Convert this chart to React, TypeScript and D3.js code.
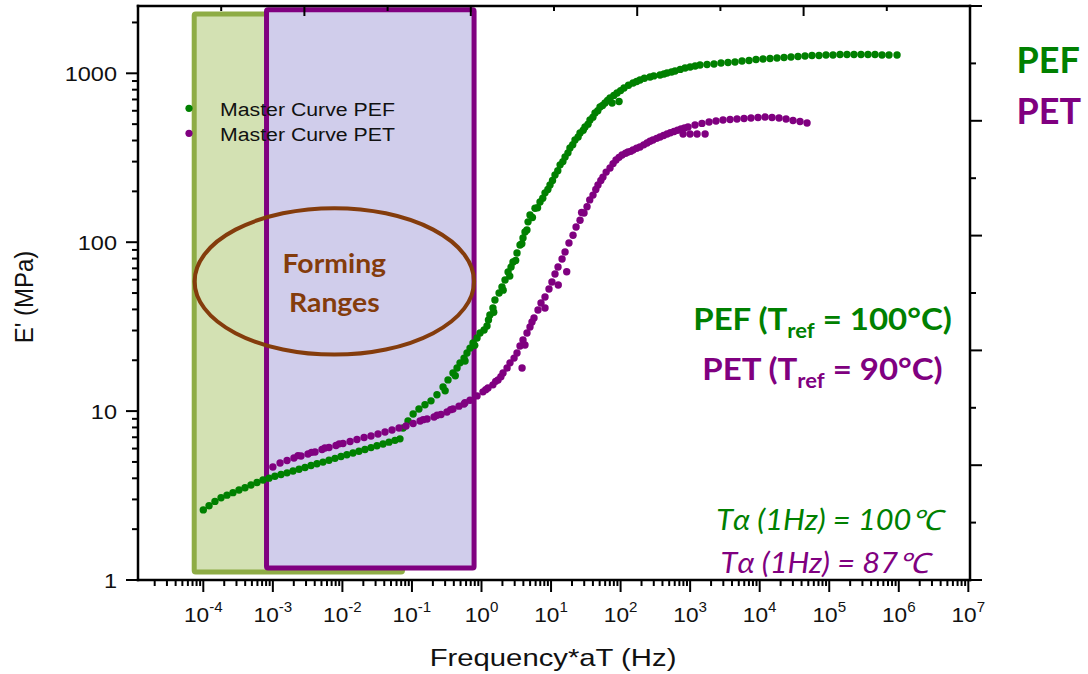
import React from "react";
import * as d3 from "d3";

// ---------- data (frequency*aT in Hz, E' in MPa) ----------
const pefPoints: [number, number][] = [
  [1.0e-4, 2.6], [1.21e-4, 2.75], [1.47e-4, 2.92], [1.8e-4, 3.07], [2.19e-4, 3.18], [2.67e-4, 3.29],
  [3.26e-4, 3.41], [3.98e-4, 3.52], [4.85e-4, 3.65], [5.92e-4, 3.78], [7.22e-4, 3.91], [8.81e-4, 4.01],
  [1.07e-3, 4.11], [1.31e-3, 4.21], [1.6e-3, 4.31], [1.95e-3, 4.42], [2.38e-3, 4.53], [2.9e-3, 4.64],
  [3.54e-3, 4.76], [4.31e-3, 4.88], [5.26e-3, 4.99], [6.42e-3, 5.12], [7.83e-3, 5.25], [9.55e-3, 5.38],
  [1.16e-2, 5.51], [1.42e-2, 5.65], [1.73e-2, 5.79], [2.11e-2, 5.93], [2.58e-2, 6.08], [3.14e-2, 6.23],
  [3.84e-2, 6.39], [4.68e-2, 6.55], [5.7e-2, 6.71], [6.73e-2, 6.85],
  [7.45e-2, 7.94], [8.78e-2, 8.74], [0.104, 9.61], [0.126, 10.3], [0.154, 10.9], [0.188, 11.5],
  [0.229, 12.5], [0.28, 13.9], [0.33, 15.3], [0.389, 16.8], [0.445, 18.0], [0.491, 19.3], [0.561, 20.6],
  [0.619, 22.1], [0.684, 23.6], [0.755, 25.3], [0.863, 27.1], [0.953, 29.0], [1.09, 30.2], [1.2, 31.9],
  [1.26, 34.6], [1.32, 37.1], [1.46, 40.8], [1.56, 45.5], [1.79, 50.0], [1.97, 54.3], [2.18, 59.7],
  [2.41, 66.6], [2.66, 71.3], [2.84, 76.3], [3.24, 86.3], [3.58, 96.3], [3.95, 106], [4.22, 115],
  [4.67, 132], [4.98, 145], [5.88, 159], [6.94, 173], [8.19, 196], [9.66, 218], [11.4, 250], [13.5, 287],
  [15.9, 320], [18.7, 361], [22.1, 403], [26.1, 443], [30.8, 481], [36.3, 529], [42.9, 582], [50.6, 632],
  [59.7, 667], [70.5, 714], [75.4, 667], [95.0, 681], [88.9, 764], [112, 818], [151, 876], [190, 913],
  [265, 951], [369, 977], [466, 1004], [607, 1032], [845, 1075],
  [1387, 1120], [1750, 1128], [2204, 1135], [2780, 1151], [3505, 1159], [4416, 1167], [5570, 1182],
  [7025, 1191], [8855, 1207], [11170, 1215], [14080, 1224], [17750, 1232], [22390, 1241], [28200, 1249],
  [35560, 1258], [44840, 1266], [56500, 1275], [71260, 1275], [89860, 1283], [113300, 1283],
  [142900, 1292], [180000, 1292], [227000, 1292], [286300, 1292], [360600, 1292], [455000, 1292],
  [574000, 1283], [723000, 1283], [944000, 1283],
  // overlapping second row of the shifted segments
  [0.3, 13.2], [0.42, 16.2], [0.58, 19.8], [0.8, 24.5], [1.5, 38.5], [2.05, 52], [2.55, 63], [3.1, 78],
  [3.8, 98], [4.5, 118], [5.4, 140], [6.4, 160], [7.6, 182], [9.0, 205], [10.5, 232], [12.5, 265],
  [14.8, 300], [17.5, 338], [20.5, 378], [24.5, 420], [29, 460], [34, 500], [40, 550], [47, 600],
  [55, 645], [65, 690], [80, 740], [100, 790], [130, 850], [170, 895], [220, 935], [300, 965],
  [420, 990], [540, 1018], [720, 1055], [1000, 1090], [1180, 1105],
];

const petPoints: [number, number][] = [
  [1.0e-3, 4.67], [1.27e-3, 4.93], [1.6e-3, 5.1], [2.01e-3, 5.28], [2.54e-3, 5.42], [3.2e-3, 5.57],
  [4.04e-3, 5.73], [5.09e-3, 5.93], [6.42e-3, 6.09], [8.09e-3, 6.26], [1.02e-2, 6.43], [1.29e-2, 6.61],
  [1.62e-2, 6.79], [2.05e-2, 6.98], [2.58e-2, 7.12], [3.25e-2, 7.32], [4.1e-2, 7.52], [5.17e-2, 7.73],
  [6.52e-2, 7.94], [8.22e-2, 8.16], [0.104, 8.45], [0.131, 8.74], [0.165, 8.98], [0.208, 9.23],
  [0.262, 9.55], [0.319, 9.88], [0.389, 10.3], [0.475, 10.7], [0.579, 11.2], [0.684, 11.6], [0.863, 12.3],
  [1.05, 13.0], [1.24, 13.7], [1.46, 14.3], [1.73, 15.3], [2.04, 16.8], [2.33, 18.0], [2.57, 19.3],
  [2.94, 20.6], [3.24, 22.1], [3.58, 24.3], [3.95, 26.4], [4.51, 29.0], [4.98, 31.5], [5.69, 35.6],
  [6.49, 39.7], [7.17, 43.7], [8.19, 47.4], [9.34, 52.8], [10.3, 58.1], [11.4, 64.8], [12.6, 71.3],
  [14.4, 79.6], [15.9, 87.5], [18.1, 98.9], [20.7, 110], [22.9, 123], [26.1, 135], [29.8, 149], [32.9, 162],
  [40.1, 190], [47.3, 218], [55.8, 243], [70.5, 275], [85.9, 307], [105, 328], [128, 342], [151, 352],
  [190, 366], [240, 387], [292, 403], [369, 420], [466, 437], [587, 452], [740, 468], [933, 481],
  [1175, 494], [1480, 505], [1870, 515], [2355, 522], [2970, 529], [3750, 533], [4720, 536], [5960, 540],
  [7500, 544], [9460, 547], [11940, 551], [15040, 547], [18970, 544], [23930, 536], [30130, 526],
  [38000, 518], [47970, 508],
  [791, 437], [998, 437], [1259, 437], [1641, 437],
  [3.83, 18.0], [4.22, 24.6], [5.32, 33.7], [8.19, 40.8], [12.7, 55.8], [16.8, 66.9],
  // overlapping second row of the shifted segments
  [2.3e-3, 5.45], [3.6e-3, 5.7], [5.6e-3, 6.05], [9.0e-3, 6.4], [0.145, 8.9], [0.23, 9.45], [0.36, 10.2],
  [0.56, 11.0], [1.15, 13.4], [1.6, 15.0], [1.9, 16.0], [27.5, 150], [36, 178], [44, 205], [52, 232],
  [62, 260], [78, 292], [95, 318], [118, 336], [140, 345], [170, 360], [215, 377], [265, 396],
  [330, 412], [415, 428], [520, 445], [660, 460], [830, 475],
];

const xDecades = [-4, -3, -2, -1, 0, 1, 2, 3, 4, 5, 6, 7];
const yMajorTicks = [1, 10, 100, 1000];
const legendItems = [
  { label: "Master Curve PEF", color: "#008000" },
  { label: "Master Curve PET", color: "#800080" },
];
const formingWindows = [
  { f0: 7.4e-5, f1: 0.0731, e0: 1.115, e1: 2244, fill: "#D3E1B3", stroke: "#8EAC45" },
  { f0: 8.11e-4, f1: 0.782, e0: 1.178, e1: 2377, fill: "#D0CDEB", stroke: "#800080" },
];
const formingEllipse = { f0: 7.5e-5, f1: 0.782, e0: 21.6, e1: 159 };

// ---------- layout ----------
const W = 1088;
const H = 674;
const L = 138, R = 970, T = 6, B = 580;
const AX_FONT = "'Liberation Sans', Arial, sans-serif";
const CAL_FONT = "Lato, 'Open Sans', sans-serif";
const GREEN = "#008000";
const PURPLE = "#800080";
const BROWN = "#843C0C";
const SX = 1.12;

const x = d3.scaleLog().domain([Math.pow(10, -4.939), Math.pow(10, 7.024)]).range([L, R]);
const y = d3.scaleLog().domain([1, Math.pow(10, 3.3985)]).range([B, T]);
const yRight = d3.scaleLinear().domain([0, 10]).range([B, T]);
const xTop = d3.scaleLinear().domain([0, 10]).range([L, R]);

function ST({ x: tx, y: ty, sx = SX, anchor = "start", children, ...rest }: any) {
  return (
    <g transform={`translate(${tx},${ty}) scale(${sx},1)`}>
      <text textAnchor={anchor} {...rest}>
        {children}
      </text>
    </g>
  );
}

export default function App() {
  const [xd0, xd1] = x.domain();
  const xMinor: { v: number; major: boolean }[] = [];
  for (let e = -5; e <= 7; e++) {
    for (let k = 1; k <= 9; k++) {
      const v = +`${k}e${e}`;
      if (v >= xd0 && v <= xd1) xMinor.push({ v, major: k === 1 });
    }
  }
  const [yd0, yd1] = y.domain();
  const yTicks: { v: number; major: boolean }[] = [];
  for (let e = 0; e <= 3; e++) {
    for (let k = 1; k <= 9; k++) {
      const v = +`${k}e${e}`;
      if (v >= yd0 && v <= yd1) yTicks.push({ v, major: k === 1 });
    }
  }
  const rightTicks = d3.range(0, 11);
  const topTicks = d3.range(0, 11);

  const ex0 = x(formingEllipse.f0), ex1 = x(formingEllipse.f1);
  const ey0 = y(formingEllipse.e1), ey1 = y(formingEllipse.e0);
  const ecx = (ex0 + ex1) / 2, ecy = (ey0 + ey1) / 2;

  return (
    <svg width={W} height={H} style={{ position: "absolute", left: 0, top: 0, background: "#fff" }}>
      {/* forming windows */}
      {formingWindows.map((w, i) => (
        <rect
          key={i}
          x={x(w.f0)}
          y={y(w.e1)}
          width={x(w.f1) - x(w.f0)}
          height={y(w.e0) - y(w.e1)}
          fill={w.fill}
          stroke={w.stroke}
          strokeWidth={5}
          rx={1.5}
        />
      ))}
      <ellipse cx={ecx} cy={ecy} rx={(ex1 - ex0) / 2} ry={(ey1 - ey0) / 2} fill="none" stroke={BROWN} strokeWidth={4} />
      <g fill={BROWN} fontFamily={CAL_FONT} fontWeight={700} fontSize={27}>
        <ST x={ecx} y={ecy - 8} anchor="middle" sx={1.05}>Forming</ST>
        <ST x={ecx} y={ecy + 30.5} anchor="middle" sx={1.05}>Ranges</ST>
      </g>

      {/* axes */}
      <g stroke="#000" strokeLinecap="square">
        <line x1={L} y1={T} x2={R} y2={T} strokeWidth={2.5} />
        <line x1={L} y1={B} x2={R} y2={B} strokeWidth={2.5} />
        <line x1={L} y1={T} x2={L} y2={B} strokeWidth={2.5} />
        <line x1={R} y1={T} x2={R} y2={B} strokeWidth={2.5} />
        {xMinor.map((t, i) => (
          <line key={"xb" + i} x1={x(t.v)} x2={x(t.v)} y1={B} y2={B + (t.major ? 12 : 6)} strokeWidth={2} strokeLinecap="butt" />
        ))}
        {yTicks.map((t, i) => (
          <line key={"yl" + i} y1={y(t.v)} y2={y(t.v)} x1={L} x2={L - (t.major ? 12 : 6)} strokeWidth={2} strokeLinecap="butt" />
        ))}
        {rightTicks.map((t) => (
          <line key={"yr" + t} y1={yRight(t)} y2={yRight(t)} x1={R} x2={R + (t % 2 === 0 ? 12 : 6)} strokeWidth={2} strokeLinecap="butt" />
        ))}
        {topTicks.map((t) => (
          <line key={"xt" + t} x1={xTop(t)} x2={xTop(t)} y1={T} y2={T + (t % 2 === 0 ? 10 : 5)} strokeWidth={2} strokeLinecap="butt" />
        ))}
      </g>

      {/* tick labels */}
      <g fontFamily={AX_FONT} fontSize={21} fill="#111">
        {yMajorTicks.map((v) => (
          <ST key={v} x={L - 21} y={y(v) + 7.5} anchor="end">
            {String(v)}
          </ST>
        ))}
        {xDecades.map((e) => (
          <ST key={e} x={x(Math.pow(10, e))} y={621.5} anchor="middle" sx={1.08}>
            <tspan>10</tspan>
            <tspan fontSize={14} dy={-10}>
              {String(e)}
            </tspan>
          </ST>
        ))}
      </g>

      {/* axis titles */}
      <g fontFamily={AX_FONT} fill="#111">
        <ST x={553} y={666} anchor="middle" fontSize={24} sx={1.22}>
          Frequency*aT (Hz)
        </ST>
        <text transform={`translate(33,297) scale(1.1,1) rotate(-90)`} textAnchor="middle" fontSize={24}>
          E' (MPa)
        </text>
      </g>

      {/* data */}
      <g>
        {pefPoints.map((d, i) => (
          <circle key={"g" + i} cx={x(d[0])} cy={y(d[1])} r={3.7} fill={GREEN} />
        ))}
        {petPoints.map((d, i) => (
          <circle key={"p" + i} cx={x(d[0])} cy={y(d[1])} r={3.7} fill={PURPLE} />
        ))}
      </g>

      {/* legend */}
      <g fontFamily={AX_FONT} fontSize={19} fill="#111">
        {legendItems.map((it, i) => (
          <g key={it.label}>
            <circle cx={189} cy={108.3 + i * 25} r={3.6} fill={it.color} />
            <ST x={220} y={115.5 + i * 25}>{it.label}</ST>
          </g>
        ))}
      </g>

      {/* annotations */}
      <g fontFamily={CAL_FONT} fontWeight={700}>
        <text x={1016.5} y={72.7} fontSize={36} fill={GREEN}>PEF</text>
        <text x={1016.5} y={124} fontSize={36} fill={PURPLE}>PET</text>
        <ST x={822.5} y={330} anchor="middle" fontSize={30} sx={1.1} fill={GREEN}>
          <tspan>PEF (T</tspan>
          <tspan fontSize={20} dy={8}>ref</tspan>
          <tspan dy={-8}> = 100°C)</tspan>
        </ST>
        <ST x={822.5} y={380} anchor="middle" fontSize={30} sx={1.1} fill={PURPLE}>
          <tspan>PET (T</tspan>
          <tspan fontSize={20} dy={8}>ref</tspan>
          <tspan dy={-8}> = 90°C)</tspan>
        </ST>
      </g>
      <g fontFamily={CAL_FONT} fontStyle="italic" fontSize={28}>
        <ST x={829} y={530} anchor="middle" sx={1.1} fill={GREEN}>Tα (1Hz) = 100℃</ST>
        <ST x={824.5} y={573} anchor="middle" sx={1.1} fill={PURPLE}>Tα (1Hz) = 87℃</ST>
      </g>
    </svg>
  );
}
